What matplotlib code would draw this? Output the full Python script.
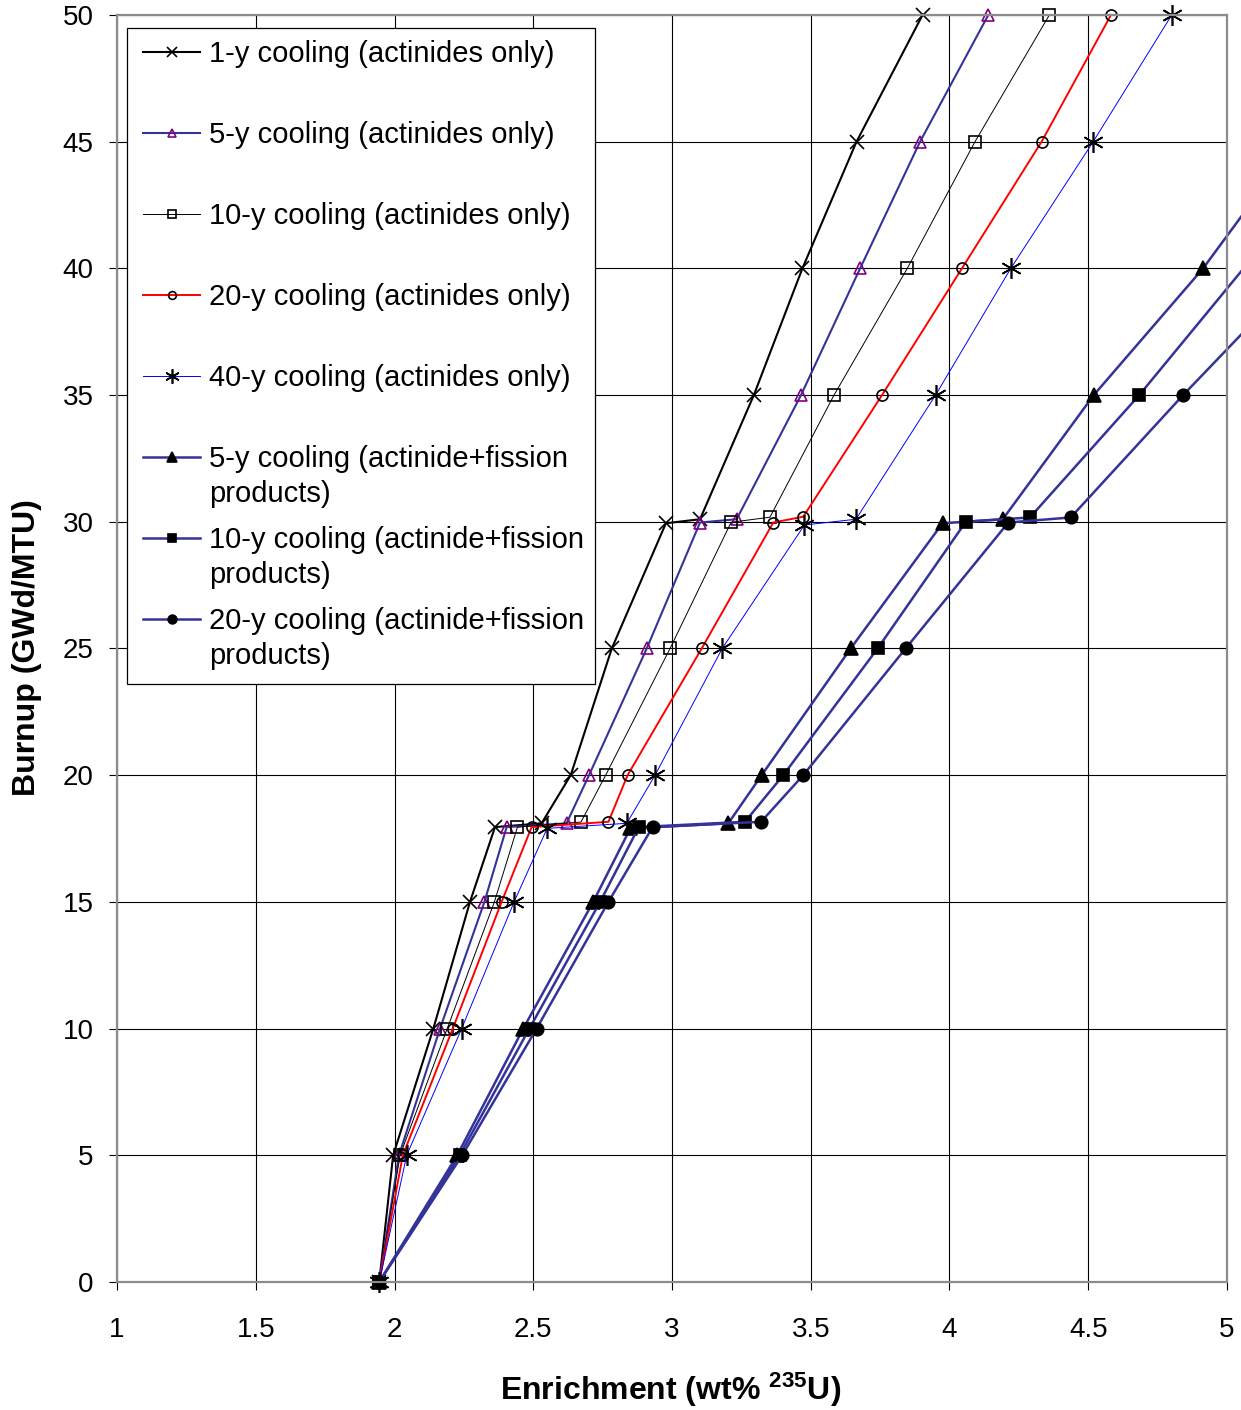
import matplotlib
matplotlib.use("Agg")
import matplotlib.pyplot as plt
from matplotlib.patches import Rectangle

plt.rcParams["font.family"] = ["Liberation Sans", "DejaVu Sans"]
plt.rcParams["mathtext.fontset"] = "custom"
plt.rcParams["mathtext.rm"] = "Liberation Sans"
plt.rcParams["mathtext.bf"] = "Liberation Sans:bold"

# enrichment (wt% U-235) vs burnup (GWd/MTU)
act1_x = [1.945, 1.995, 2.14, 2.272, 2.362, 2.53, 2.635, 2.783, 2.978, 3.101, 3.295, 3.470, 3.665, 3.903]
act1_y = [0, 5, 10, 15, 17.95, 18.1, 20, 25, 29.94, 30.1, 35, 40, 45, 50]

act5_x = [1.945, 2.016, 2.164, 2.324, 2.404, 2.62, 2.701, 2.909, 3.101, 3.233, 3.465, 3.678, 3.894, 4.140]
act5_y = [0, 5, 10, 15, 17.95, 18.1, 20, 25, 29.97, 30.1, 35, 40, 45, 50]

act10_x = [1.945, 2.02, 2.19, 2.36, 2.443, 2.672, 2.761, 2.993, 3.213, 3.353, 3.584, 3.848, 4.092, 4.360]
act10_y = [0, 5, 10, 15, 17.95, 18.15, 20, 25, 29.98, 30.18, 35, 40, 45, 50]

act20_x = [1.945, 2.03, 2.21, 2.386, 2.494, 2.771, 2.840, 3.107, 3.365, 3.473, 3.757, 4.045, 4.332, 4.582]
act20_y = [0, 5, 10, 15, 17.95, 18.16, 20, 25, 29.97, 30.2, 35, 40, 45, 50]

act40_x = [1.945, 2.044, 2.242, 2.431, 2.55, 2.837, 2.939, 3.181, 3.477, 3.663, 3.950, 4.221, 4.518, 4.801]
act40_y = [0, 5, 10, 15, 17.9, 18.1, 20, 25, 29.87, 30.1, 35, 40, 45, 50]

# actinide + fission products (last point runs off the right edge)
fp5_x = [1.945, 2.226, 2.464, 2.716, 2.85, 3.203, 3.323, 3.644, 3.975, 4.192, 4.520, 4.914, 5.25]
fp5_y = [0, 5, 10, 15, 17.9, 18.1, 20, 25, 29.94, 30.1, 35, 40, 45]

fp10_x = [1.945, 2.235, 2.486, 2.741, 2.88, 3.263, 3.401, 3.741, 4.059, 4.290, 4.684, 5.06]
fp10_y = [0, 5, 10, 15, 17.95, 18.16, 20, 25, 30.0, 30.17, 35, 40]

fp20_x = [1.945, 2.244, 2.512, 2.771, 2.93, 3.321, 3.473, 3.842, 4.212, 4.437, 4.842, 5.28]
fp20_y = [0, 5, 10, 15, 17.95, 18.16, 20, 25, 29.97, 30.17, 35, 40]

labels = [
    "1-y cooling (actinides only)",
    "5-y cooling (actinides only)",
    "10-y cooling (actinides only)",
    "20-y cooling (actinides only)",
    "40-y cooling (actinides only)",
    "5-y cooling (actinide+fission",
    "10-y cooling (actinide+fission",
    "20-y cooling (actinide+fission",
]
x_ticks = [1, 1.5, 2, 2.5, 3, 3.5, 4, 4.5, 5]
x_ticklabels = ["1", "1.5", "2", "2.5", "3", "3.5", "4", "4.5", "5"]
y_ticks = [0, 5, 10, 15, 20, 25, 30, 35, 40, 45, 50]

NAVY = "#333399"
STAR = (6, 2, 0)

fig = plt.figure(figsize=(12.41, 14.10), dpi=100)
ax = fig.add_axes([0.0943, 0.0908, 0.8944, 0.8986])

common = dict(clip_on=False, markeredgewidth=1.2)
h1, = ax.plot(act1_x, act1_y, color="black", lw=1.5, marker="x", ms=10, mec="black", **common)
h2, = ax.plot(act5_x, act5_y, color=NAVY, lw=1.5, marker="^", ms=9, mec="#800080", mfc="none", **common)
h3, = ax.plot(act10_x, act10_y, color="black", lw=0.7, marker="s", ms=8, mec="black", mfc="none", **common)
h4, = ax.plot(act20_x, act20_y, color="red", lw=1.4, marker="o", ms=8, mec="black", mfc="none", **common)
h5, = ax.plot(act40_x, act40_y, color="blue", lw=0.7, marker=STAR, ms=15, mec="black", **common)
h6, = ax.plot(fp5_x, fp5_y, color=NAVY, lw=1.8, marker="^", ms=10, mec="black", mfc="black",
              markevery=list(range(len(fp5_x) - 1)), **common)
h7, = ax.plot(fp10_x, fp10_y, color=NAVY, lw=1.8, marker="s", ms=8.5, mec="black", mfc="black",
              markevery=list(range(len(fp10_x) - 1)), **common)
h8, = ax.plot(fp20_x, fp20_y, color=NAVY, lw=1.8, marker="o", ms=9, mec="black", mfc="black",
              markevery=list(range(len(fp20_x) - 1)), **common)

ax.set_xlim(1, 5)
ax.set_ylim(0, 50)
ax.set_xticks(x_ticks)
ax.set_xticklabels(x_ticklabels)
ax.set_yticks(y_ticks)
ax.tick_params(axis="both", direction="out", length=6, width=0.8, labelsize=20, color="black")
ax.tick_params(axis="x", pad=19)
ax.tick_params(axis="y", pad=11)
ax.grid(True, color="black", lw=0.8)
ax.set_axisbelow(True)
for sp in ax.spines.values():
    sp.set_color("#8c8c8c")
    sp.set_linewidth(1.6)

ax.set_ylabel("Burnup (GWd/MTU)", fontsize=23, fontweight="bold")
ax.yaxis.set_label_coords(-0.068, 0.501)
ax.set_xlabel("Enrichment (wt% $\\mathbf{^{235}}$U)", fontsize=23, fontweight="bold")
ax.xaxis.set_label_coords(0.499, -0.0703)

# legend frame (Excel-style box)
ax.add_patch(Rectangle((0.009, 0.472), 0.4216, 0.5177, transform=ax.transAxes,
                       facecolor="white", edgecolor="black", lw=0.9, zorder=4, clip_on=False))
leg = ax.legend([h1, h2, h3, h4, h5, h6, h7, h8], labels, loc="upper left",
                bbox_to_anchor=(0.0234, 0.9803), frameon=False, fontsize=21, numpoints=1,
                handlelength=1.97, handletextpad=0.31, labelspacing=1.82,
                borderpad=0, borderaxespad=0, markerscale=0.7)
leg.set_zorder(5)
for t in leg.get_texts()[5:]:
    ax.annotate("products)", xy=(0, 0), xycoords=t, xytext=(0, -35), textcoords="offset pixels",
                fontsize=21, ha="left", va="bottom", zorder=6)

fig.savefig("out.png", dpi=100)
